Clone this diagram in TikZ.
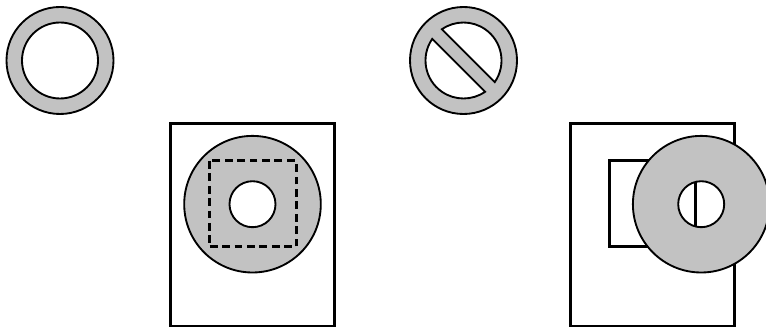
\documentclass[tikz,border=0pt]{standalone}
\tikzset{
  px/.style={x=0.75pt,y=-0.75pt},
  ringline/.style={draw=black,line width=1.4pt},
  boxline/.style={draw=black,line width=2.25pt},
  grayfill/.style={fill=black!24},
  holefill/.style={fill=white}
}
\begin{document}
\begin{tikzpicture}[px]
\useasboundingbox (0,0) rectangle (766,327);
% top-left ring
\draw[ringline,grayfill] (60,60.5) circle[radius=53.5*0.75pt];
\draw[ringline,holefill] (60,60.5) circle[radius=38*0.75pt];
% top-right prohibition sign
\draw[ringline,grayfill] (463.5,60.5) circle[radius=53.5*0.75pt];
\draw[ringline,holefill] (463.5,60.5) ++(-34.7:28.5pt) arc[start angle=-34.7,end angle=124.7,radius=28.5pt] -- cycle;
\draw[ringline,holefill] (463.5,60.5) ++(145.3:28.5pt) arc[start angle=145.3,end angle=304.7,radius=28.5pt] -- cycle;
% lower-left panel
\draw[boxline] (170,124) rectangle (334,326);
\draw[ringline,grayfill] (252.5,204.2) circle[radius=68.3*0.75pt];
\draw[boxline,dash pattern=on 5.8pt off 3.5pt] (209,161) rectangle (296,247);
\draw[ringline,holefill] (252.5,204.2) circle[radius=23*0.75pt];
% lower-right panel
\draw[boxline] (570,124) rectangle (734,326);
\draw[boxline] (609,161) rectangle (695,247);
\draw[ringline,grayfill,even odd rule] (701.2,204.2) circle[radius=68.3*0.75pt] (701.2,204.2) circle[radius=23*0.75pt];
\end{tikzpicture}
\end{document}
